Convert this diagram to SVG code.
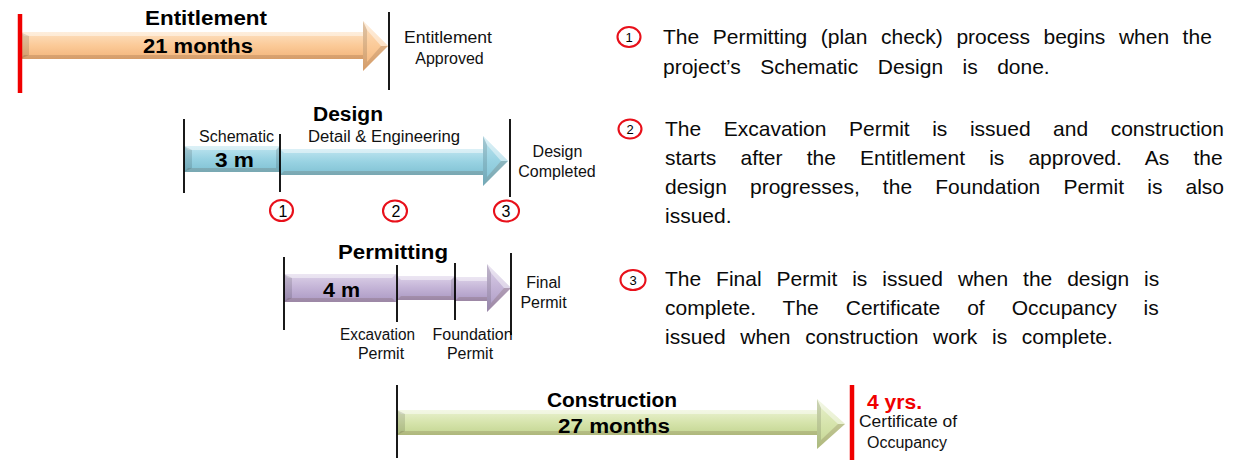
<svg xmlns="http://www.w3.org/2000/svg" width="1236" height="460" viewBox="0 0 1236 460">
  <defs>
    <!-- vertical face gradients for the bevelled phase arrows -->
    <linearGradient id="gEnt" x1="0" y1="0" x2="0" y2="1">
      <stop offset="0" stop-color="#fde0c0"/>
      <stop offset="0.5" stop-color="#fbca98"/>
      <stop offset="1" stop-color="#f2b47a"/>
    </linearGradient>
    <linearGradient id="gDes" x1="0" y1="0" x2="0" y2="1">
      <stop offset="0" stop-color="#bfe5f0"/>
      <stop offset="0.5" stop-color="#98d2e2"/>
      <stop offset="1" stop-color="#80c1d3"/>
    </linearGradient>
    <linearGradient id="gPer" x1="0" y1="0" x2="0" y2="1">
      <stop offset="0" stop-color="#dcd1e8"/>
      <stop offset="0.5" stop-color="#c3b3d6"/>
      <stop offset="1" stop-color="#ab99c3"/>
    </linearGradient>
    <linearGradient id="gCon" x1="0" y1="0" x2="0" y2="1">
      <stop offset="0" stop-color="#e9f1d0"/>
      <stop offset="0.5" stop-color="#d6e4ac"/>
      <stop offset="1" stop-color="#c3d591"/>
    </linearGradient>
    <style>
      text { font-family: 'Liberation Sans', Arial, sans-serif; fill: #000; }
      .ttl { font-size: 20px; font-weight: bold; }
      .lbl { font-size: 16px; fill: #111; }
      .note { font-size: 21px; fill: #0a0a0a; }
      .num { font-size: 13px; }
      .num2 { font-size: 16px; }
      .red { fill: #f00000; }
      .ms { stroke: #000; stroke-width: 1.8; }
      .ms-red { stroke: #f00000; stroke-width: 4.5; }
      .ring { fill: none; stroke: #e8101a; stroke-width: 2.1; }
      .hi { fill: #fff; opacity: 0.45; }
      .lo { fill: #5a3a20; opacity: 0.18; }
      .lo2 { fill: #000; opacity: 0.12; }
    </style>
  </defs>

  <!-- Entitlement phase -->
  <g id="entitlement">
    <rect x="20" y="32" width="343" height="27" fill="url(#gEnt)"/>
    <polygon class="hi" points="20,32 363,32 363,36 24,36"/>
    <polygon class="lo" points="24,55 363,55 363,59 20,59"/>
    <polygon class="lo2" points="20,32 29,36 29,55 20,59"/>
    <polygon points="363,21 388,46 363,71" fill="url(#gEnt)"/>
    <polygon class="hi" points="363,21 388,46 381,46 367,30"/>
    <polygon class="lo" points="363,71 388,46 381,46 367,62"/>
    <polygon class="lo2" points="363,21 367,30 367,62 363,71"/>
    <text class="ttl" x="145" y="25" textLength="122" lengthAdjust="spacingAndGlyphs">Entitlement</text>
    <text class="ttl" x="143" y="53" textLength="110" lengthAdjust="spacingAndGlyphs">21 months</text>
    <text class="lbl" x="404" y="43" textLength="88" lengthAdjust="spacingAndGlyphs">Entitlement</text>
    <text class="lbl" x="449.5" y="64" text-anchor="middle">Approved</text>
  </g>

  <!-- Design phase -->
  <g id="design">
    <rect x="280" y="149" width="203" height="26" fill="url(#gDes)"/>
    <polygon class="hi" points="280,149 483,149 483,153 284,153"/>
    <polygon class="lo" points="284,171 483,171 483,175 280,175"/>
    <rect x="184" y="146" width="96" height="26" fill="url(#gDes)"/>
    <polygon class="hi" points="184,146 280,146 276,150 188,150"/>
    <polygon class="lo" points="188,168 276,168 280,172 184,172"/>
    <polygon class="lo2" points="184,146 192,150 192,168 184,172"/>
    <polygon class="lo2" points="280,146 276,150 276,168 280,172"/>
    <polygon points="483,136 508,161 483,186" fill="url(#gDes)"/>
    <polygon class="hi" points="483,136 508,161 501,161 487,145"/>
    <polygon class="lo" points="483,186 508,161 501,161 487,177"/>
    <polygon class="lo2" points="483,136 487,145 487,177 483,186"/>
    <text class="ttl" x="313" y="121" textLength="70" lengthAdjust="spacingAndGlyphs">Design</text>
    <text class="lbl" x="199" y="141.5" textLength="75" lengthAdjust="spacingAndGlyphs">Schematic</text>
    <text class="lbl" x="308" y="141.5" textLength="152" lengthAdjust="spacingAndGlyphs">Detail &amp; Engineering</text>
    <text class="ttl" x="215" y="166.5" textLength="39" lengthAdjust="spacingAndGlyphs">3 m</text>
    <text class="lbl" x="557.5" y="156.5" text-anchor="middle">Design</text>
    <text class="lbl" x="557" y="176.5" text-anchor="middle">Completed</text>
    <ellipse class="ring" cx="281.5" cy="210.5" rx="11.5" ry="10.5"/>
    <text class="num2" x="283" y="216.5" text-anchor="middle">1</text>
    <ellipse class="ring" cx="395" cy="211" rx="12" ry="10.5"/>
    <text class="num2" x="396" y="217" text-anchor="middle">2</text>
    <ellipse class="ring" cx="506.5" cy="211" rx="12.5" ry="10.5"/>
    <text class="num2" x="506" y="217" text-anchor="middle">3</text>
  </g>

  <!-- Permitting phase -->
  <g id="permitting">
    <rect x="284" y="274" width="112" height="28" fill="url(#gPer)"/>
    <polygon class="hi" points="284,274 396,274 392,278 288,278"/>
    <polygon class="lo" points="288,298 392,298 396,302 284,302"/>
    <polygon class="lo2" points="284,274 292,278 292,298 284,302"/>
    <rect x="397" y="276" width="58" height="24" fill="url(#gPer)"/>
    <polygon class="hi" points="397,276 455,276 451,280 401,280"/>
    <polygon class="lo" points="401,296 451,296 455,300 397,300"/>
    <polygon class="lo2" points="455,276 451,280 451,296 455,300"/>
    <rect x="455" y="277" width="32" height="24" fill="url(#gPer)"/>
    <polygon class="hi" points="455,277 487,277 487,281 459,281"/>
    <polygon class="lo" points="459,297 487,297 487,301 455,301"/>
    <polygon points="487,264 511,288 487,312" fill="url(#gPer)"/>
    <polygon class="hi" points="487,264 511,288 504,288 491,273"/>
    <polygon class="lo" points="487,312 511,288 504,288 491,303"/>
    <polygon class="lo2" points="487,264 491,273 491,303 487,312"/>
    <text class="ttl" x="338" y="259" textLength="110" lengthAdjust="spacingAndGlyphs">Permitting</text>
    <text class="ttl" x="323" y="296.5" textLength="37" lengthAdjust="spacingAndGlyphs">4 m</text>
    <text class="lbl" x="543.5" y="287.5" text-anchor="middle">Final</text>
    <text class="lbl" x="543.5" y="308" text-anchor="middle">Permit</text>
    <text class="lbl" x="377.5" y="340" text-anchor="middle" textLength="75" lengthAdjust="spacingAndGlyphs">Excavation</text>
    <text class="lbl" x="381" y="359" text-anchor="middle">Permit</text>
    <text class="lbl" x="472.5" y="340" text-anchor="middle">Foundation</text>
    <text class="lbl" x="470" y="359" text-anchor="middle">Permit</text>
  </g>

  <!-- Construction phase -->
  <g id="construction">
    <rect x="397" y="410" width="420" height="25" fill="url(#gCon)"/>
    <polygon class="hi" points="397,410 817,410 817,414 401,414"/>
    <polygon class="lo" points="401,431 817,431 817,435 397,435"/>
    <polygon class="lo2" points="397,410 405,414 405,431 397,435"/>
    <polygon points="817,399 845,424 817,449" fill="url(#gCon)"/>
    <polygon class="hi" points="817,399 845,424 838,424 821,408"/>
    <polygon class="lo" points="817,449 845,424 838,424 821,440"/>
    <polygon class="lo2" points="817,399 821,408 821,440 817,449"/>
    <text class="ttl" x="547" y="407" textLength="130" lengthAdjust="spacingAndGlyphs">Construction</text>
    <text class="ttl" x="558" y="432.5" textLength="112" lengthAdjust="spacingAndGlyphs">27 months</text>
    <text class="ttl red" x="867" y="408.5" textLength="55" lengthAdjust="spacingAndGlyphs">4 yrs.</text>
    <text class="lbl" x="859" y="427" textLength="98" lengthAdjust="spacingAndGlyphs">Certificate  of</text>
    <text class="lbl" x="907" y="448" text-anchor="middle">Occupancy</text>
  </g>

  <!-- milestone markers -->
  <g id="milestones">
    <line class="ms-red" x1="20" y1="14" x2="20" y2="93"/>
    <line class="ms" x1="389" y1="12" x2="389" y2="90"/>
    <line class="ms" x1="184" y1="119" x2="184" y2="193"/>
    <line class="ms" x1="280" y1="134" x2="280" y2="192"/>
    <line class="ms" x1="510" y1="119" x2="510" y2="197"/>
    <line class="ms" x1="284" y1="257" x2="284" y2="330"/>
    <line class="ms" x1="397" y1="265" x2="397" y2="322"/>
    <line class="ms" x1="455" y1="263" x2="455" y2="320"/>
    <line class="ms" x1="511" y1="253" x2="511" y2="335"/>
    <line class="ms" x1="397" y1="385" x2="397" y2="458"/>
    <line class="ms-red" x1="852" y1="385" x2="852" y2="460"/>
  </g>

  <!-- explanatory notes -->
  <g id="note-1">
    <ellipse class="ring" cx="629" cy="37" rx="11.5" ry="10"/>
    <text class="num" x="629" y="41.5" text-anchor="middle">1</text>
    <text class="note" x="663" y="43.5" word-spacing="7.7">The Permitting (plan check) process begins when the</text>
    <text class="note" x="663" y="74" word-spacing="13.6">project’s Schematic Design is done.</text>
  </g>
  <g id="note-2">
    <ellipse class="ring" cx="630" cy="129" rx="11.5" ry="9.5"/>
    <text class="num" x="630" y="133.5" text-anchor="middle">2</text>
    <text class="note" x="665" y="136" word-spacing="16.7">The Excavation Permit is issued and construction</text>
    <text class="note" x="665" y="165" word-spacing="18.3">starts after the Entitlement is approved. As the</text>
    <text class="note" x="665" y="194" word-spacing="17.3">design progresses, the Foundation Permit is also</text>
    <text class="note" x="665" y="223">issued.</text>
  </g>
  <g id="note-3">
    <ellipse class="ring" cx="633" cy="280" rx="12.5" ry="10"/>
    <text class="num" x="633" y="284.5" text-anchor="middle">3</text>
    <text class="note" x="665" y="286" word-spacing="9.1">The Final Permit is issued when the design is</text>
    <text class="note" x="665" y="315" word-spacing="21.1">complete. The Certificate of Occupancy is</text>
    <text class="note" x="665" y="344" word-spacing="8.8">issued when construction work is complete.</text>
  </g>
</svg>
